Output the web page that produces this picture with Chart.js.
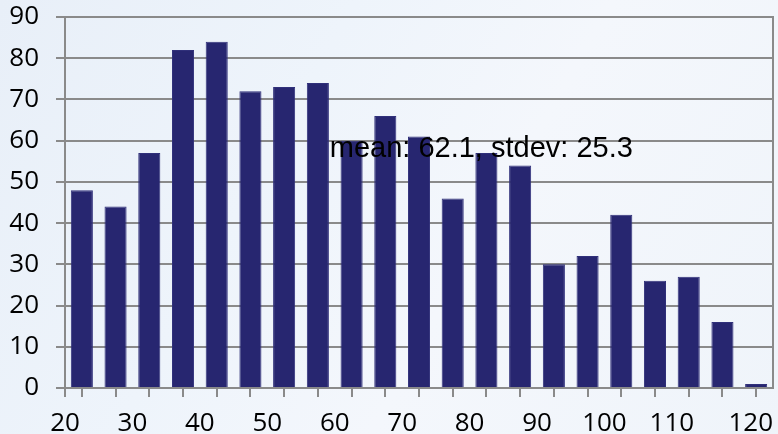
<!DOCTYPE html>
<html><head><meta charset="utf-8">
<script src="https://cdn.jsdelivr.net/npm/chart.js@4.4.0/dist/chart.umd.min.js"></script>
<style>html,body{margin:0;padding:0;background:#eef3fa;overflow:hidden;} #wrap{width:778px;height:434px;position:relative;}</style>
</head><body><div id="wrap"><canvas id="c" width="778" height="434"></canvas></div>
<script>
// Bin edges of the histogram (21 bins from 20 to 120)
const binEdges = [20, 24.76, 29.52, 34.29, 39.05, 43.81, 48.57, 53.33, 58.10, 62.86, 67.62,
                  72.38, 77.14, 81.90, 86.67, 91.43, 96.19, 100.95, 105.71, 110.48, 115.24, 120];
// Counts per bin
const counts = [48, 44, 57, 82, 84, 72, 73, 74, 60, 66, 61, 46, 57, 54, 30, 32, 42, 26, 27, 16, 1];
// Label shown under each bin edge ('' = tick mark only)
const edgeLabels = ['20', '', '30', '', '40', '', '50', '', '60', '', '70', '', '80', '', '90', '',
                    '100', '', '110', '', '', '120'];
// Y axis
const yMin = 0, yMax = 90, yStep = 10;
// Summary statistics text
const meanValue = '62.1';
const stdevValue = '25.3';

const GRID = '#8a8a8a';
const AXIS_FONT = {family: "Open Sans", size: 26};

const bgPlugin = {
  id: 'bg',
  beforeDraw(chart) {
    const {ctx, width, height} = chart;
    ctx.save();
    const g = ctx.createLinearGradient(0, 0, width, height);
    g.addColorStop(0, '#e8eff8');
    g.addColorStop(0.35, '#eef4fb');
    g.addColorStop(0.6, '#f4f7fc');
    g.addColorStop(1, '#eff4fa');
    ctx.fillStyle = g;
    ctx.fillRect(0, 0, width, height);
    ctx.restore();
  }
};

const statsPlugin = {
  id: 'stats',
  afterDraw(chart, args, opts) {
    const {ctx, scales} = chart;
    const px = scales.x.getPixelForValue(opts.x);
    const py = scales.y.getPixelForValue(opts.y);
    ctx.save();
    ctx.font = "29px 'Liberation Sans', Arial, sans-serif";
    ctx.fillStyle = '#000';
    ctx.textAlign = 'center';
    ctx.textBaseline = 'alphabetic';
    ctx.fillText(opts.text, px, py);
    ctx.restore();
  }
};

new Chart(document.getElementById('c'), {
  type: 'bar',
  data: {
    datasets: [{
      data: counts.map((c, i) => ({x: (binEdges[i] + binEdges[i + 1]) / 2, y: c})),
      backgroundColor: '#272670',
      borderColor: '#30307a',
      borderWidth: 1,
      categoryPercentage: 1,
      barPercentage: 0.655
    }]
  },
  options: {
    responsive: false,
    animation: false,
    devicePixelRatio: 1,
    layout: {padding: {left: 0, right: 5, top: 0, bottom: 0}},
    plugins: {
      legend: {display: false},
      tooltip: {enabled: false},
      stats: {text: 'mean: ' + meanValue + ', stdev: ' + stdevValue, x: 78.8, y: 56}
    },
    scales: {
      x: {
        type: 'linear',
        min: binEdges[0],
        max: binEdges[binEdges.length - 1],
        offset: false,
        afterBuildTicks(s) {
          s.ticks = [{value: binEdges[0]}].concat(binEdges.map(v => ({value: v})));
        },
        afterFit(s) { s.height = 46; s.paddingLeft = 0; s.paddingRight = 0; },
        ticks: {
          autoSkip: false, maxRotation: 0, align: 'inner', padding: 11,
          font: AXIS_FONT, color: '#000',
          callback: (v, i) => i === 0 ? '' : edgeLabels[i - 1]
        },
        grid: {drawOnChartArea: false, tickLength: 9, color: GRID, lineWidth: 2},
        border: {color: GRID, width: 2}
      },
      y: {
        min: yMin, max: yMax,
        afterFit(s) { s.width = 65; s.paddingTop = 17; s.paddingBottom = 0; },
        ticks: {stepSize: yStep, padding: 17, font: AXIS_FONT, color: '#000'},
        grid: {color: GRID, lineWidth: 2, tickLength: 9},
        border: {color: GRID, width: 2}
      },
      y2: {
        position: 'right', min: yMin, max: yMax,
        afterFit(s) { s.width = 0; s.paddingTop = 17; s.paddingBottom = 0; },
        ticks: {display: false},
        grid: {display: false, drawTicks: false},
        border: {color: GRID, width: 2}
      }
    }
  },
  plugins: [bgPlugin, statsPlugin]
});
</script></body></html>
